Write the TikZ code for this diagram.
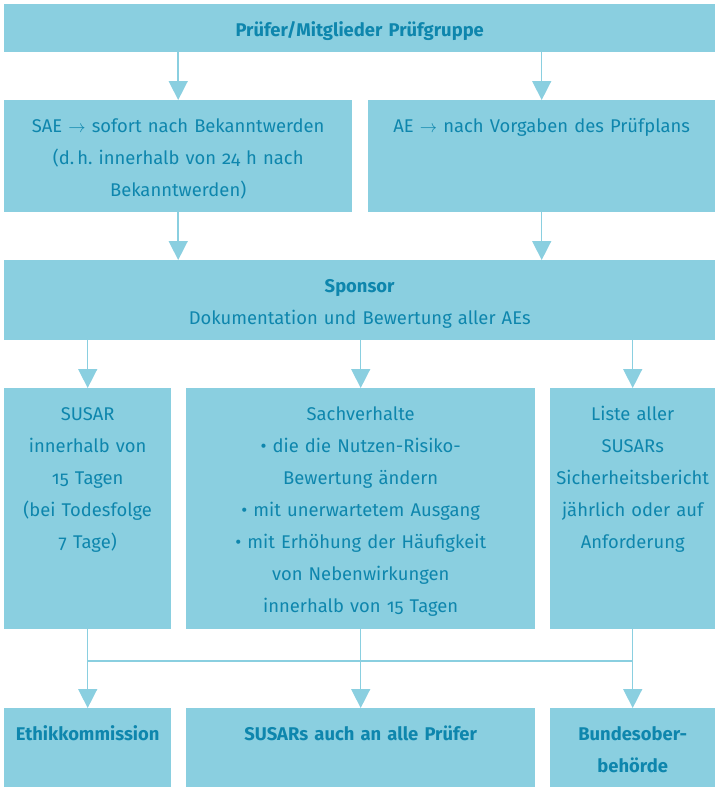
\documentclass[tikz,border=0pt]{standalone}
\usepackage{fontspec}
\setmainfont{Fira Sans}[Numbers=OldStyle, WordSpace=0.85]
\usetikzlibrary{arrows.meta}
\frenchspacing

\definecolor{boxfill}{HTML}{8ACFE0}
\definecolor{boxtext}{HTML}{0E86AD}

\tikzset{
  box/.style={fill=boxfill, text=boxtext, anchor=north west, inner xsep=0pt,
    inner ysep=0pt, align=center, text height=32pt,
    font=\fontsize{18.4}{32}\selectfont},
  flow/.style={draw=boxfill, line width=1.5pt,
    -{Triangle[width=19pt,length=19pt,fill=boxfill]}}
}

\begin{document}
\begin{tikzpicture}[x=1pt,y=-1pt]
    \useasboundingbox (0,0) rectangle (718,787);

    % Prüfer
    \node (top) at (4,4) [box, text width=711pt, text depth=16pt]
        {\bfseries Prüfer/Mitglieder Prüfgruppe};

    % SAE und AE
    \node (sae) at (4,100) [box, text width=348pt, text depth=80pt]
        {SAE $\rightarrow$ sofort nach Bekanntwerden\\(d.\,h. innerhalb von 24 h nach\\Bekanntwerden)};
    \node (ae) at (368,100) [box, text width=347pt, text depth=80pt]
        {AE $\rightarrow$ nach Vorgaben des Prüfplans};

    % Sponsor
    \node (sponsor) at (4,260) [box, text width=711pt, text depth=48pt]
        {\textbf{Sponsor}\\Dokumentation und Bewertung aller AEs};

    % Meldungen
    \node (susar) at (4,388) [box, text width=167pt, text depth=209pt]
        {SUSAR\\innerhalb von\\15 Tagen\\(bei Todesfolge\\7 Tage)};
    \node (sach) at (186,388) [box, text width=349pt, text depth=209pt]
        {Sachverhalte\\• die die Nutzen-Risiko-\\Bewertung ändern\\• mit unerwartetem Ausgang\\• mit Erhöhung der Häufigkeit\\von Nebenwirkungen\\innerhalb von 15 Tagen};
    \node (liste) at (550,388) [box, text width=165pt, text depth=209pt]
        {Liste aller\\SUSARs\\Sicherheitsbericht\\jährlich oder auf\\Anforderung};

    % Empfänger
    \node (ethik) at (4,708) [box, text width=167pt, text depth=47pt]
        {\bfseries Ethikkommission};
    \node (alle) at (186,708) [box, text width=349pt, text depth=47pt]
        {\bfseries SUSARs auch an alle Prüfer};
    \node (bund) at (550,708) [box, text width=165pt, text depth=47pt]
        {\bfseries Bundesober-\\behörde};

    % Pfeile
    \draw[flow] (top.south -| sae.north) -- (sae.north);
    \draw[flow] (top.south -| ae.north) -- (ae.north);
    \draw[flow] (sae.south) -- (sae.south |- sponsor.north);
    \draw[flow] (ae.south) -- (ae.south |- sponsor.north);
    \draw[flow] (sponsor.south -| susar.north) -- (susar.north);
    \draw[flow] (sponsor.south -| sach.north) -- (sach.north);
    \draw[flow] (sponsor.south -| liste.north) -- (liste.north);

    \coordinate (bar) at (0,661);
    \draw[boxfill, line width=1.5pt] (susar.south |- bar) -- (liste.south |- bar);
    \draw[flow] (susar.south) -- (ethik.north);
    \draw[flow] (sach.south) -- (alle.north);
    \draw[flow] (liste.south) -- (bund.north);
\end{tikzpicture}
\end{document}
